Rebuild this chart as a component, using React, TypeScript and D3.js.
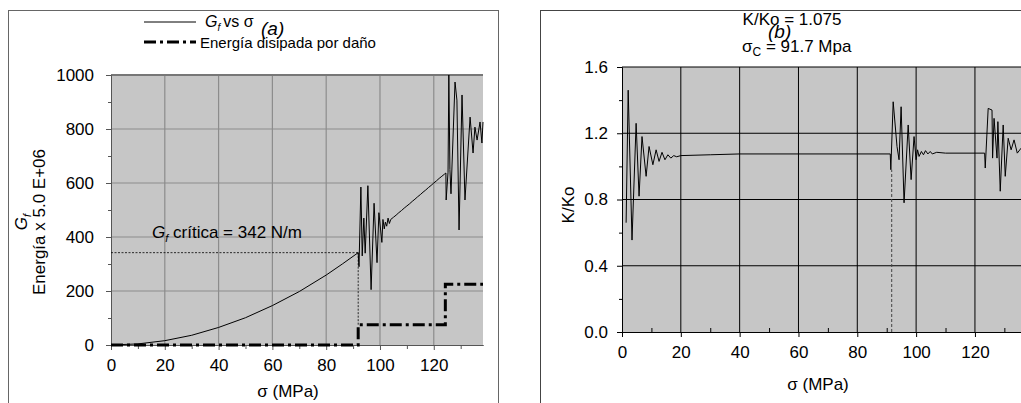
import React, { useRef, useEffect } from 'react';
import * as d3 from 'd3';

// (a) G_f vs sigma
const gfSigma = [0, 10, 20, 30, 40, 50, 60, 70, 80, 86, 91.9,
  92.2, 92.9, 93.4, 94.0, 94.5, 95.5, 96.7, 97.8, 98.9, 99.6, 100.7, 101.1, 101.6, 102.0, 102.5, 103.0, 103.5, 104.0,
  105, 106, 107, 108, 109, 110, 111, 112, 113, 114, 115, 116, 117, 118, 119, 120, 121, 122, 123, 124, 124.5,
  124.6, 125.3, 125.6, 126.0, 126.4, 127.9, 128.6, 129.4, 130.5, 131.6, 133.5, 134.6, 135.3, 136.1, 137.2, 137.9, 138.3];
const gfValue = [0, 4, 16, 36, 65, 101, 146, 198, 259, 300, 342,
  290, 585, 330, 470, 340, 590, 205, 525, 305, 490, 380, 465, 430, 455, 440, 470, 450, 465,
  473, 481, 490, 498, 507, 515, 523, 532, 540, 549, 557, 566, 574, 583, 591, 600, 608, 617, 625, 633, 637,
  537, 640, 1000, 650, 560, 974, 907, 426, 926, 537, 844, 711, 807, 759, 826, 748, 826];

// (a) energia disipada por dano (stepped)
const energySigma = [0, 91.9, 91.9, 124.3, 124.3, 138.3];
const energyValue = [0, 0, 75, 75, 225, 225];

// (b) K/Ko vs sigma
const kSigma = [1.4, 2.1, 3.4, 4.8, 5.8, 6.8, 8.2, 9.2, 10.5, 11.6, 12.6, 13.6, 14.6, 15.6, 16.6, 17.6, 18.6, 20, 30, 40, 60, 80, 91.2,
  91.4, 92.2, 93.5, 94.2, 94.9, 95.9, 97.3, 98.3, 99.3, 100, 100.5, 101, 101.8, 102.5, 103.2, 104, 104.8, 105.5, 107, 110, 123.3,
  123.5, 124.5, 125.8, 126.0, 126.5, 127.5, 127.8, 128.6, 129.6, 130.3, 131.3, 132.3, 133.3, 134.4, 135.7];
const kValue = [0.66, 1.46, 0.555, 1.26, 0.82, 1.18, 0.94, 1.12, 1.01, 1.10, 1.03, 1.085, 1.04, 1.07, 1.05, 1.065, 1.058, 1.065, 1.07, 1.075, 1.075, 1.075, 1.075,
  0.98, 1.39, 1.12, 1.04, 1.36, 0.78, 1.25, 0.92, 1.18, 1.04, 1.10, 1.06, 1.09, 1.07, 1.095, 1.075, 1.09, 1.075, 1.085, 1.08, 1.08,
  0.99, 1.35, 1.34, 1.05, 1.29, 1.05, 1.27, 0.85, 1.25, 0.94, 1.17, 1.10, 1.16, 1.08, 1.11];

const gfTicks = [0, 200, 400, 600, 800, 1000];
const gfMinor = [100, 300, 500, 700, 900];
const kTicks = [0, 0.4, 0.8, 1.2, 1.6];
const kMinor = [0.2, 0.6, 1.0, 1.4];
const sigmaTicks = [0, 20, 40, 60, 80, 100, 120];
const sigmaMinor = [10, 30, 50, 70, 90, 110, 130];

const gfCritical = 342;
const sigmaCritical = 91.7;
const kRatio = 1.075;

const font = "'Liberation Sans', Arial, sans-serif";

const App = () => {
    const svgRef = useRef<SVGSVGElement>(null);

    useEffect(() => {
        const svg = d3.select(svgRef.current);
        svg.selectAll('*').remove();
        svg.attr('font-family', font);

        // panel frames
        svg.append('rect').attr('x', 8.5).attr('y', 10.5).attr('width', 490).attr('height', 420)
            .attr('fill', '#fff').attr('stroke', '#666');
        svg.append('rect').attr('x', 540.5).attr('y', 10.5).attr('width', 500).attr('height', 420)
            .attr('fill', '#fff').attr('stroke', '#444');

        // ---------- panel (a) ----------
        const xa = d3.scaleLinear().domain([0, 138.3]).range([111, 483]);
        const ya = d3.scaleLinear().domain([0, 1000]).range([345, 75]);
        const ga = svg.append('g');

        ga.append('rect')
            .attr('x', xa(0)).attr('y', ya(1000))
            .attr('width', xa(138.3) - xa(0)).attr('height', ya(0) - ya(1000))
            .attr('fill', '#c6c6c6');

        ga.selectAll('.vgrid').data(sigmaTicks.slice(1)).join('line')
            .attr('x1', d => xa(d)).attr('x2', d => xa(d))
            .attr('y1', ya(0)).attr('y2', ya(1000))
            .attr('stroke', '#8c8c8c').attr('stroke-width', 1.2);
        ga.selectAll('.hgrid').data(gfTicks.slice(1)).join('line')
            .attr('x1', xa(0)).attr('x2', xa(138.3))
            .attr('y1', d => ya(d)).attr('y2', d => ya(d))
            .attr('stroke', d => d === 1000 ? '#777' : '#8c8c8c').attr('stroke-width', d => d === 1000 ? 2 : 1.2);

        const styleAxis = (g, color) => {
            g.attr('font-family', font).attr('font-size', 17);
            g.select('.domain').attr('stroke', color);
            g.selectAll('line').attr('stroke', color);
            g.selectAll('text').attr('fill', '#000');
        };

        ga.append('g').attr('transform', `translate(${xa(0)},0)`)
            .call(d3.axisLeft(ya).tickValues(gfTicks).tickSize(5).tickSizeOuter(0).tickPadding(12).tickFormat(d3.format('d')))
            .call(g => styleAxis(g, '#555'));
        ga.append('g').attr('transform', `translate(${xa(0)},0)`)
            .call(d3.axisLeft(ya).tickValues(gfMinor).tickSize(3).tickSizeOuter(0).tickFormat(() => ''))
            .call(g => styleAxis(g, '#555'));
        ga.append('g').attr('transform', `translate(0,${ya(0)})`)
            .call(d3.axisBottom(xa).tickValues(sigmaTicks).tickSize(5).tickSizeOuter(0).tickPadding(9))
            .call(g => styleAxis(g, '#555'));
        ga.append('g').attr('transform', `translate(0,${ya(0)})`)
            .call(d3.axisBottom(xa).tickValues(sigmaMinor).tickSize(4).tickSizeOuter(0).tickFormat(() => ''))
            .call(g => styleAxis(g, '#555'));

        // critical dotted guides
        ga.append('line')
            .attr('x1', xa(0)).attr('x2', xa(energySigma[1]))
            .attr('y1', ya(gfCritical)).attr('y2', ya(gfCritical))
            .attr('stroke', '#000').attr('stroke-width', 0.8).attr('stroke-dasharray', '2,1.5');
        ga.append('line')
            .attr('x1', xa(energySigma[1])).attr('x2', xa(energySigma[1]))
            .attr('y1', ya(gfCritical)).attr('y2', ya(energyValue[2]))
            .attr('stroke', '#000').attr('stroke-width', 0.8).attr('stroke-dasharray', '2,1.5');

        const lineA = d3.line<number>().x((d, i) => xa(gfSigma[i])).y(d => ya(d));
        ga.append('path').datum(gfValue).attr('d', lineA)
            .attr('fill', 'none').attr('stroke', '#000').attr('stroke-width', 1);

        const lineE = d3.line<number>().x((d, i) => xa(energySigma[i])).y(d => ya(d));
        ga.append('path').datum(energyValue).attr('d', lineE)
            .attr('fill', 'none').attr('stroke', '#000').attr('stroke-width', 3)
            .attr('stroke-dasharray', '12,4,3,4');

        // G_f critica label
        const crit = ga.append('text').attr('x', 152).attr('y', 238).attr('font-size', 17);
        crit.append('tspan').attr('font-style', 'italic').text('G');
        crit.append('tspan').attr('font-style', 'italic').attr('font-size', 11).attr('dy', 4).text('f');
        crit.append('tspan').attr('dy', -4).text(` crítica = ${gfCritical} N/m`);

        // legend (a)
        ga.append('line').attr('x1', 144).attr('x2', 196).attr('y1', 22).attr('y2', 22)
            .attr('stroke', '#000').attr('stroke-width', 1);
        const lg1 = ga.append('text').attr('x', 205).attr('y', 27).attr('font-size', 16);
        lg1.append('tspan').attr('font-style', 'italic').text('G');
        lg1.append('tspan').attr('font-style', 'italic').attr('font-size', 10).attr('dy', 4).text('f');
        lg1.append('tspan').attr('dy', -4).attr('dx', 3).text('vs σ');
        ga.append('text').attr('x', 261).attr('y', 35).attr('font-size', 19).attr('font-style', 'italic').text('(a)');
        ga.append('line').attr('x1', 144).attr('x2', 196).attr('y1', 42).attr('y2', 42)
            .attr('stroke', '#000').attr('stroke-width', 3).attr('stroke-dasharray', '12,4,3,4');
        ga.append('text').attr('x', 200).attr('y', 48).attr('font-size', 15).text('Energía disipada por daño');

        // axis titles (a)
        const yt1 = ga.append('text').attr('transform', 'translate(27,222) rotate(-90)')
            .attr('text-anchor', 'middle').attr('font-size', 17);
        yt1.append('tspan').attr('font-style', 'italic').text('G');
        yt1.append('tspan').attr('font-style', 'italic').attr('font-size', 11).attr('dy', 4).text('f');
        ga.append('text').attr('transform', 'translate(45,222) rotate(-90)')
            .attr('text-anchor', 'middle').attr('font-size', 17).text('Energía x 5.0 E+06');
        ga.append('text').attr('x', 288).attr('y', 397).attr('text-anchor', 'middle')
            .attr('font-size', 17).text('σ (MPa)');

        // ---------- panel (b) ----------
        const xb = d3.scaleLinear().domain([0, 136]).range([622, 1022]);
        const yb = d3.scaleLinear().domain([0, 1.6]).range([332, 67]);
        const gb = svg.append('g');

        gb.append('rect')
            .attr('x', xb(0)).attr('y', yb(1.6))
            .attr('width', xb(136) - xb(0)).attr('height', yb(0) - yb(1.6))
            .attr('fill', '#c6c6c6');
        gb.selectAll('.vgrid').data(sigmaTicks.slice(1)).join('line')
            .attr('x1', d => xb(d)).attr('x2', d => xb(d))
            .attr('y1', yb(0)).attr('y2', yb(1.6))
            .attr('stroke', '#000').attr('stroke-width', 1);
        gb.selectAll('.hgrid').data(kTicks.slice(1)).join('line')
            .attr('x1', xb(0)).attr('x2', xb(136))
            .attr('y1', d => yb(d)).attr('y2', d => yb(d))
            .attr('stroke', '#000').attr('stroke-width', 1);

        gb.append('g').attr('transform', `translate(${xb(0)},0)`)
            .call(d3.axisLeft(yb).tickValues(kTicks).tickSize(5).tickSizeOuter(0).tickPadding(9).tickFormat(d3.format('.1f')))
            .call(g => styleAxis(g, '#000'));
        gb.append('g').attr('transform', `translate(${xb(0)},0)`)
            .call(d3.axisLeft(yb).tickValues(kMinor).tickSize(3).tickSizeOuter(0).tickFormat(() => ''))
            .call(g => styleAxis(g, '#000'));
        gb.append('g').attr('transform', `translate(0,${yb(0)})`)
            .call(d3.axisBottom(xb).tickValues(sigmaTicks).tickSize(5).tickSizeOuter(0).tickPadding(9))
            .call(g => styleAxis(g, '#000'));
        gb.append('g').attr('transform', `translate(0,${yb(0)})`)
            .call(d3.axisBottom(xb).tickValues(sigmaMinor).tickSize(-4).tickSizeOuter(0).tickFormat(() => ''))
            .call(g => styleAxis(g, '#000'));

        gb.append('line')
            .attr('x1', xb(sigmaCritical)).attr('x2', xb(sigmaCritical))
            .attr('y1', yb(0)).attr('y2', yb(kValue[23]))
            .attr('stroke', '#444').attr('stroke-width', 1).attr('stroke-dasharray', '3,2');

        const lineK = d3.line<number>().x((d, i) => xb(kSigma[i])).y(d => yb(d));
        gb.append('path').datum(kValue).attr('d', lineK)
            .attr('fill', 'none').attr('stroke', '#000').attr('stroke-width', 1);

        // header (b)
        gb.append('text').attr('x', 792).attr('y', 25).attr('text-anchor', 'middle')
            .attr('font-size', 17).text(`K/Ko = ${kRatio}`);
        const sc = gb.append('text').attr('x', 742).attr('y', 52).attr('font-size', 17);
        sc.append('tspan').text('σ');
        sc.append('tspan').attr('font-size', 12).attr('dy', 4).text('C');
        sc.append('tspan').attr('dy', -4).text(` = ${sigmaCritical} Mpa`);
        gb.append('text').attr('x', 768).attr('y', 38).attr('font-size', 19).attr('font-style', 'italic').text('(b)');

        gb.append('text').attr('transform', 'translate(574,205) rotate(-90)')
            .attr('text-anchor', 'middle').attr('font-size', 17).text('K/Ko');
        gb.append('text').attr('x', 818).attr('y', 390).attr('text-anchor', 'middle')
            .attr('font-size', 17).text('σ (MPa)');
    }, []);

    return (
        <svg ref={svgRef} width={1021} height={403}
            style={{ position: 'absolute', left: 0, top: 0, display: 'block', background: '#fff' }} />
    );
};

export default App;
